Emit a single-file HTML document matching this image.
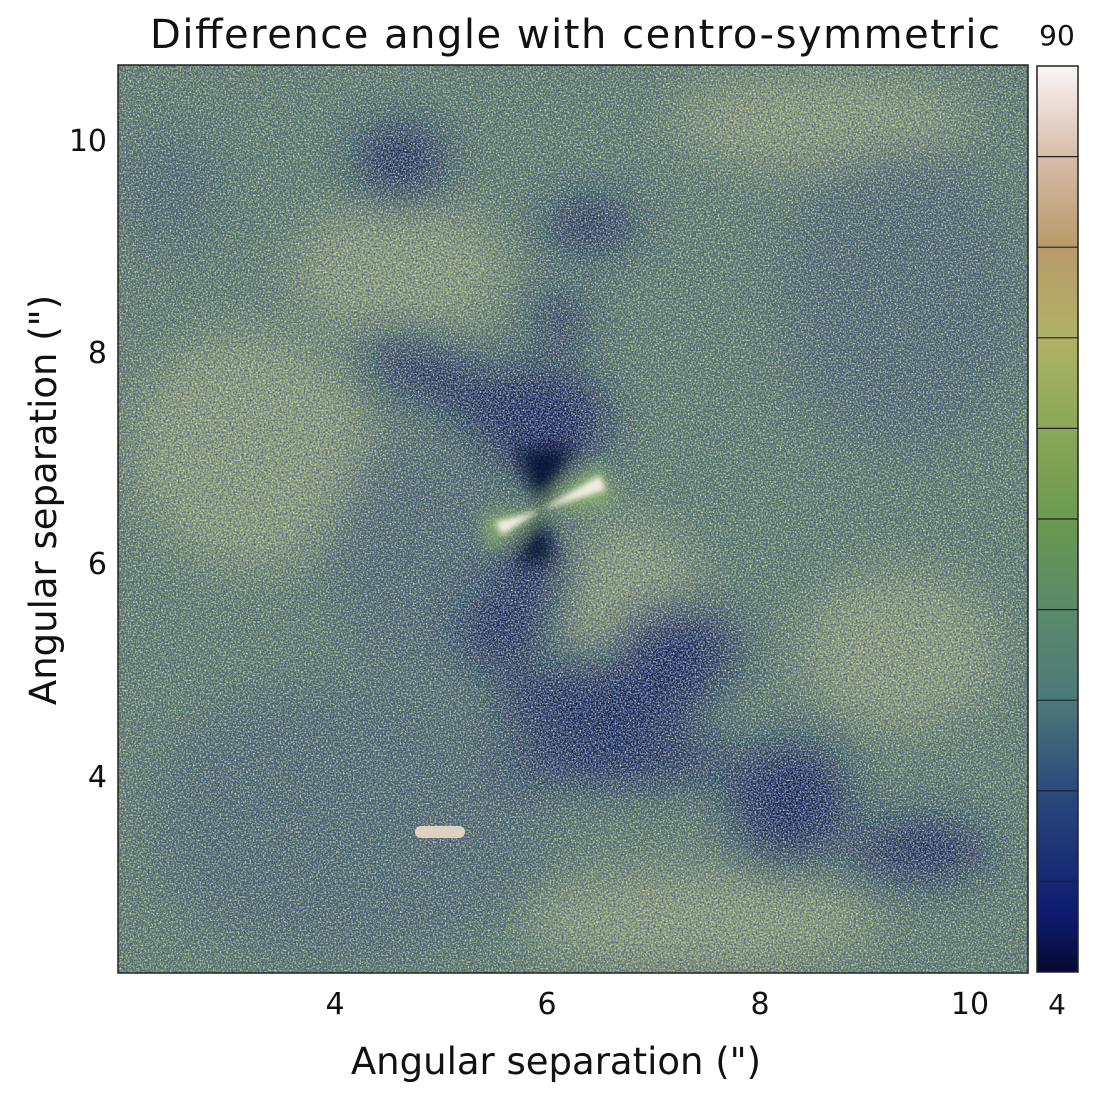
<!DOCTYPE html>
<html><head><style>
body{margin:0;background:#fff;width:1110px;height:1110px;overflow:hidden;font-family:"DejaVu Sans","Liberation Sans",sans-serif;}
</style></head><body>
<svg width="1110" height="1110" xmlns="http://www.w3.org/2000/svg">
<defs>
<filter id="b20" x="-50%" y="-50%" width="200%" height="200%"><feGaussianBlur stdDeviation="22"/></filter>
<filter id="b8" x="-50%" y="-50%" width="200%" height="200%"><feGaussianBlur stdDeviation="9"/></filter>
<filter id="b3" x="-50%" y="-50%" width="200%" height="200%"><feGaussianBlur stdDeviation="3"/></filter>
<filter id="noise"><feTurbulence type="fractalNoise" baseFrequency="0.6" numOctaves="2" seed="3"/><feColorMatrix type="matrix" values="0 0 0 0 0.8  0 0 0 0 0.82  0 0 0 0 0.55  0 0 0 -2.2 1.3"/></filter>
<filter id="noise2"><feTurbulence type="fractalNoise" baseFrequency="0.5" numOctaves="2" seed="9"/><feColorMatrix type="matrix" values="0 0 0 0 0.06  0 0 0 0 0.1  0 0 0 0 0.32  0 0 0 -2.4 1.35"/></filter>
<linearGradient id="cb" x1="0" y1="1" x2="0" y2="0">
<stop offset="0" stop-color="#050a30"/><stop offset="0.06" stop-color="#0d1a6e"/><stop offset="0.2" stop-color="#2b4a7c"/>
<stop offset="0.3" stop-color="#4c7a7a"/><stop offset="0.4" stop-color="#5a8a6a"/><stop offset="0.5" stop-color="#6a9a4e"/>
<stop offset="0.6" stop-color="#8aa858"/><stop offset="0.7" stop-color="#b0b266"/><stop offset="0.8" stop-color="#b89a6a"/>
<stop offset="0.9" stop-color="#d8bcaa"/><stop offset="1" stop-color="#faf6f6"/></linearGradient>
<clipPath id="cp"><rect x="118" y="65" width="910" height="908"/></clipPath>
</defs>
<g clip-path="url(#cp)">
<rect x="118" y="65" width="910" height="908" fill="#58785e"/>
<g filter="url(#b20)" fill="#9aa870" opacity="0.7">
<ellipse cx="400" cy="270" rx="110" ry="70"/>
<ellipse cx="630" cy="600" rx="70" ry="80"/>
<ellipse cx="250" cy="450" rx="120" ry="120"/>
<ellipse cx="700" cy="920" rx="180" ry="50"/>
<ellipse cx="900" cy="650" rx="100" ry="80"/>
<ellipse cx="820" cy="120" rx="150" ry="50"/>
</g>
<g filter="url(#b20)" fill="#2a3a6a" opacity="0.35">
<ellipse cx="170" cy="190" rx="50" ry="60"/>
<ellipse cx="350" cy="820" rx="200" ry="140"/>
<ellipse cx="420" cy="560" rx="90" ry="120"/>
<ellipse cx="900" cy="300" rx="120" ry="150"/>
</g>
<g filter="url(#b20)" fill="#101c52">
<ellipse cx="540" cy="420" rx="70" ry="55"/>
<ellipse cx="440" cy="380" rx="80" ry="25" transform="rotate(25 440 380)"/>
<ellipse cx="560" cy="320" rx="25" ry="25"/>
<ellipse cx="590" cy="225" rx="45" ry="25"/>
<ellipse cx="400" cy="160" rx="45" ry="35"/>
<ellipse cx="530" cy="570" rx="30" ry="45"/>
<ellipse cx="600" cy="700" rx="110" ry="35"/>
<ellipse cx="620" cy="760" rx="120" ry="25"/>
<ellipse cx="680" cy="650" rx="60" ry="40"/>
<ellipse cx="790" cy="800" rx="60" ry="60"/>
<ellipse cx="920" cy="850" rx="70" ry="30"/>
<ellipse cx="500" cy="630" rx="40" ry="40"/>
</g>
<rect x="118" y="65" width="910" height="908" filter="url(#noise)"/>
<rect x="118" y="65" width="910" height="908" filter="url(#noise2)"/>
<g filter="url(#b8)" opacity="0.9">
<path d="M541 510 L515 450 L575 445 Z" fill="#050a30"/>
<path d="M541 510 L515 565 L555 560 Z" fill="#050a30"/>
<path d="M541 510 L600 460 L615 505 Z" fill="#8ab070"/>
<path d="M541 510 L480 515 L490 555 Z" fill="#8ab070"/>
</g>
<g filter="url(#b3)">
<path d="M541 510 L600 475 L606 490 Z" fill="#f2eee0"/>
<path d="M541 510 L495 522 L502 535 Z" fill="#f2eee0"/>
</g>
<rect x="415" y="826" width="50" height="12" rx="6" fill="#e0d0c0"/>
</g>
<rect x="118" y="65" width="910" height="908" fill="none" stroke="#222" stroke-width="1.5"/>
<rect x="1037" y="66" width="41" height="906" fill="url(#cb)" stroke="#222" stroke-width="1.5"/>
<g stroke="#222" stroke-width="1.2">
<line x1="1037" y1="156.6" x2="1078" y2="156.6"/><line x1="1037" y1="247.2" x2="1078" y2="247.2"/>
<line x1="1037" y1="337.8" x2="1078" y2="337.8"/><line x1="1037" y1="428.4" x2="1078" y2="428.4"/>
<line x1="1037" y1="519" x2="1078" y2="519"/><line x1="1037" y1="609.6" x2="1078" y2="609.6"/>
<line x1="1037" y1="700.2" x2="1078" y2="700.2"/><line x1="1037" y1="790.8" x2="1078" y2="790.8"/>
<line x1="1037" y1="881.4" x2="1078" y2="881.4"/></g>
<g font-size="30" fill="#111">
<text x="575" y="48" text-anchor="middle" font-size="40" textLength="850">Difference angle with centro-symmetric</text>
<text x="1057" y="45" text-anchor="middle" font-size="28">90</text>
<text x="1057" y="1014" text-anchor="middle" font-size="28">4</text>
<text x="335" y="1014" text-anchor="middle">4</text>
<text x="547" y="1014" text-anchor="middle">6</text>
<text x="760" y="1014" text-anchor="middle">8</text>
<text x="970" y="1014" text-anchor="middle">10</text>
<text x="107" y="151" text-anchor="end">10</text>
<text x="107" y="363" text-anchor="end">8</text>
<text x="107" y="574" text-anchor="end">6</text>
<text x="107" y="787" text-anchor="end">4</text>
<text x="556" y="1074" text-anchor="middle" font-size="37">Angular separation (")</text>
<text transform="translate(56 500) rotate(-90)" text-anchor="middle" font-size="37">Angular separation (")</text>
</g>
</svg>
</body></html>
